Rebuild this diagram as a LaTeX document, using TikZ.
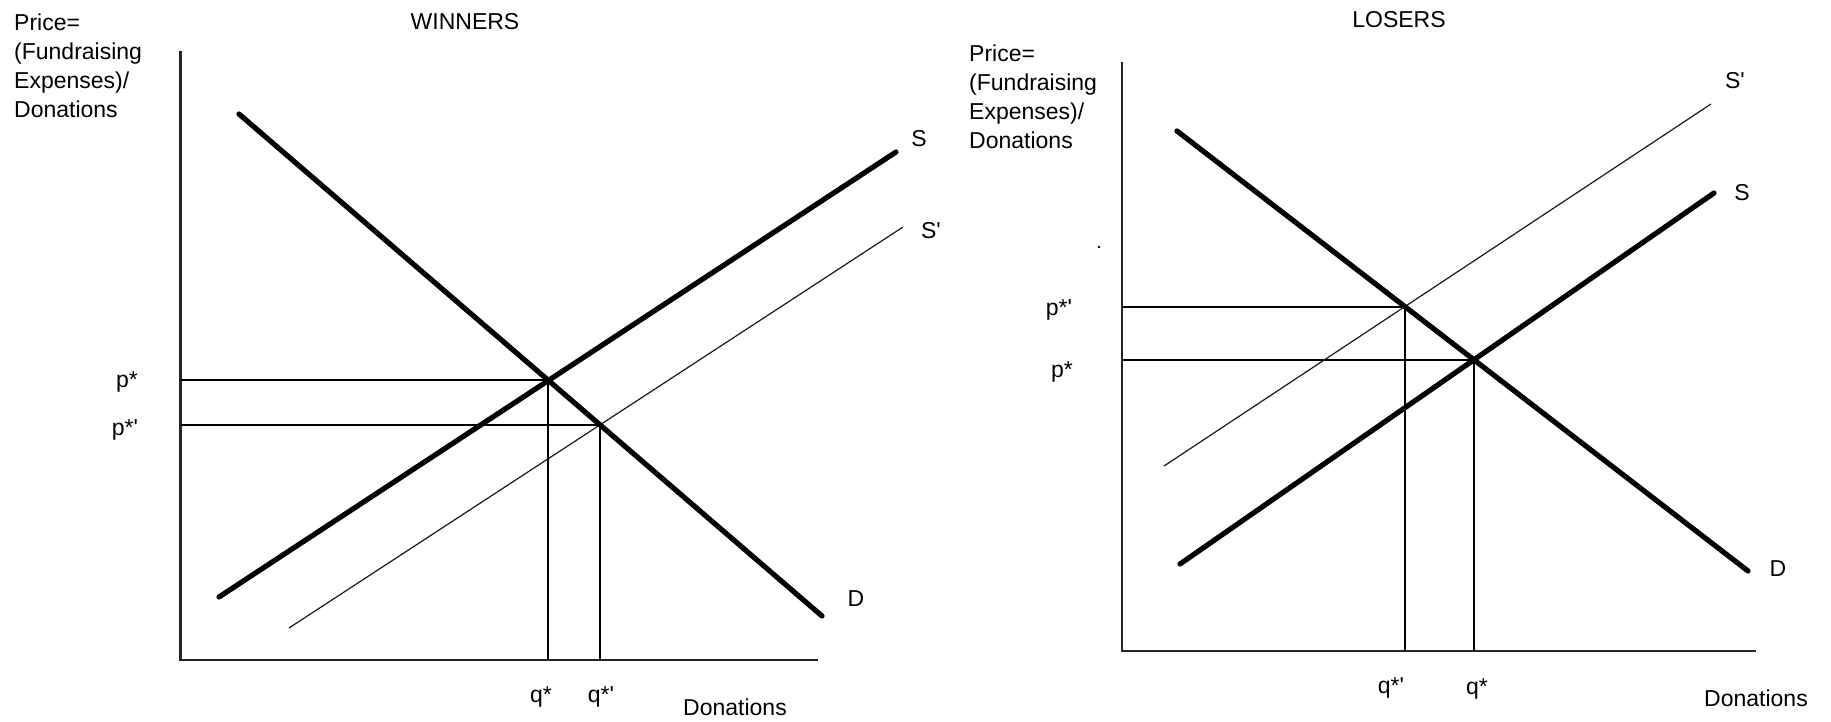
\documentclass[tikz,border=0pt]{standalone}
\usepackage{fontspec}
\setmainfont{Liberation Sans}[Ligatures=TeXOff]
\begin{document}
\begin{tikzpicture}[x=1pt,y=-1pt,
  axis/.style={line width=2.2pt, draw=black!85},
  guide/.style={line width=2pt, draw=black},
  curve/.style={line width=5.2pt, line cap=round},
  thincurve/.style={line width=1.2pt, draw=black!90},
  lbl/.style={font=\fontsize{23}{29}\selectfont, inner sep=0pt, text=black}]
\useasboundingbox (0,0) rectangle (1831,721);
\fill[white] (0,0) rectangle (1831,721);

% ---------------- WINNERS ----------------
\coordinate (LO) at (180.5,660);
\coordinate (LYT) at (180.5,51);
\coordinate (LXR) at (818,660);
\coordinate (LDa) at (239,114);
\coordinate (LDb) at (822,616);
\coordinate (LSa) at (219,597);
\coordinate (LSb) at (896,152);
\coordinate (LPa) at (289,628);
\coordinate (LPb) at (903,227);
\coordinate (LE1) at (intersection of LDa--LDb and LSa--LSb);
\coordinate (LE2) at (intersection of LDa--LDb and LPa--LPb);

\draw[axis] (LYT) -- (LO) -- (LXR);
\draw[guide] (LO |- LE1) -- (LE1) -- (LE1 |- LO);
\draw[guide] (LO |- LE2) -- (LE2) -- (LE2 |- LO);
\draw[thincurve] (LPa) -- (LPb);
\draw[curve] (LSa) -- (LSb);
\draw[curve] (LDa) -- (LDb);

\node[lbl, anchor=north west, align=left] (Lprice) at (14,14) {Price=\\(Fundraising\\Expenses)/\\Donations};
\node[lbl] (Ltitle) at (465,22) {WINNERS};
\node[lbl] (LSl) at (919,139) {S};
\node[lbl] (LPl) at (931,231) {S'};
\node[lbl] (LDl) at (856,599) {D};
\node[lbl] (Lp1) at (127,382) {p*};
\node[lbl] (Lp2) at (125,430) {p*'};
\node[lbl] (Lq1) at (541,697) {q*};
\node[lbl] (Lq2) at (601,697) {q*'};
\node[lbl] (Ldon) at (735,707) {Donations};

% ---------------- LOSERS ----------------
\coordinate (RO) at (1122,651);
\coordinate (RYT) at (1122,62);
\coordinate (RXR) at (1756,651);
\coordinate (RDa) at (1177,131);
\coordinate (RDb) at (1748,571);
\coordinate (RSa) at (1180,564);
\coordinate (RSb) at (1714,193);
\coordinate (RPa) at (1164,466);
\coordinate (RPb) at (1711,104);
\coordinate (RE1) at (intersection of RDa--RDb and RSa--RSb);
\coordinate (RE2) at (intersection of RDa--RDb and RPa--RPb);

\draw[axis] (RYT) -- (RO) -- (RXR);
\draw[guide] (RO |- RE1) -- (RE1) -- (RE1 |- RO);
\draw[guide] (RO |- RE2) -- (RE2) -- (RE2 |- RO);
\draw[thincurve] (RPa) -- (RPb);
\draw[curve] (RSa) -- (RSb);
\draw[curve] (RDa) -- (RDb);
\fill (1099,247) circle (1.3);

\node[lbl, anchor=north west, align=left] (Rprice) at (969,45) {Price=\\(Fundraising\\Expenses)/\\Donations};
\node[lbl] (Rtitle) at (1399,20) {LOSERS};
\node[lbl] (RPl) at (1735,81) {S'};
\node[lbl] (RSl) at (1742,193) {S};
\node[lbl] (RDl) at (1778,569) {D};
\node[lbl] (Rp2) at (1059,310) {p*'};
\node[lbl] (Rp1) at (1062,372) {p*};
\node[lbl] (Rq2) at (1391,688) {q*'};
\node[lbl] (Rq1) at (1477,689) {q*};
\node[lbl] (Rdon) at (1756,698) {Donations};
\end{tikzpicture}
\end{document}
